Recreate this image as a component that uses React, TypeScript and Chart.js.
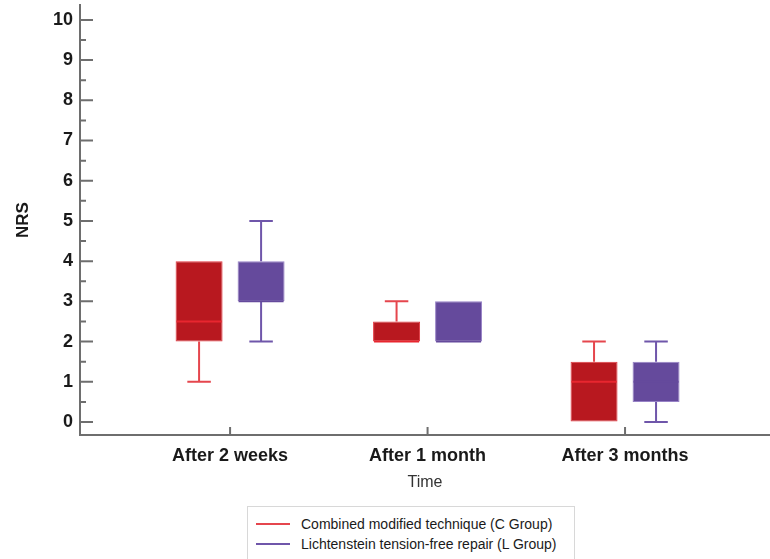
import React, { useEffect, useRef } from "react";
import { Chart, registerables } from "chart.js";

Chart.register(...registerables);

const categories = ["After 2 weeks", "After 1 month", "After 3 months"];
const yTickValues = [0, 1, 2, 3, 4, 5, 6, 7, 8, 9, 10];

// Combined modified technique (C Group)
const cMin = [1, 2, 0];
const cQ1 = [2, 2, 0];
const cMedian = [2.5, 2, 1];
const cQ3 = [4, 2.5, 1.5];
const cMax = [4, 3, 2];

// Lichtenstein tension-free repair (L Group)
const lMin = [2, 2, 0];
const lQ1 = [3, 2, 0.5];
const lMedian = [3, 2, 1];
const lQ3 = [4, 3, 1.5];
const lMax = [5, 3, 2];

const seriesNames = [
  "Combined modified technique (C Group)",
  "Lichtenstein tension-free repair (L Group)",
];

const FONT = "'Liberation Sans', Arial, sans-serif";
const AXIS = "#6e6e6e";

const styles = [
  { fill: "#b8181f", border: "#e23a42", whisker: "#e5464d", median: "#e8262f" },
  { fill: "#654a9c", border: "#9782c6", whisker: "#6f56aa", median: "#654a9c" },
];

const stats = [
  { min: cMin, q1: cQ1, med: cMedian, q3: cQ3, max: cMax },
  { min: lMin, q1: lQ1, med: lMedian, q3: lQ3, max: lMax },
];

const boxPlugin = {
  id: "boxWhiskers",
  afterDatasetsDraw(chart: any) {
    const ctx = chart.ctx;
    const y = chart.scales.y;
    stats.forEach((st, di) => {
      const meta = chart.getDatasetMeta(di);
      const sty = styles[di];
      meta.data.forEach((bar: any, i: number) => {
        const { x, width } = bar.getProps(["x", "width"], true);
        const cap = width / 4;
        ctx.save();
        ctx.strokeStyle = sty.whisker;
        ctx.lineWidth = 2;
        if (st.min[i] < st.q1[i]) {
          const a = y.getPixelForValue(st.q1[i]);
          const b = y.getPixelForValue(st.min[i]);
          ctx.beginPath();
          ctx.moveTo(x, a);
          ctx.lineTo(x, b);
          ctx.moveTo(x - cap, b);
          ctx.lineTo(x + cap, b);
          ctx.stroke();
        }
        if (st.max[i] > st.q3[i]) {
          const a = y.getPixelForValue(st.q3[i]);
          const b = y.getPixelForValue(st.max[i]);
          ctx.beginPath();
          ctx.moveTo(x, a);
          ctx.lineTo(x, b);
          ctx.moveTo(x - cap, b);
          ctx.lineTo(x + cap, b);
          ctx.stroke();
        }
        const m = y.getPixelForValue(st.med[i]);
        ctx.strokeStyle = sty.median;
        ctx.beginPath();
        ctx.moveTo(x - width / 2 + 1, m);
        ctx.lineTo(x + width / 2 - 1, m);
        ctx.stroke();
        ctx.restore();
      });
    });
  },
};

const innerTicks = {
  id: "innerTicks",
  afterDraw(chart: any) {
    const ctx = chart.ctx;
    const { left, bottom } = chart.chartArea;
    const x = chart.scales.x;
    const y = chart.scales.y;
    ctx.save();
    ctx.strokeStyle = AXIS;
    ctx.lineWidth = 2;
    ctx.beginPath();
    yTickValues.forEach((v, idx) => {
      const p = y.getPixelForValue(v);
      ctx.moveTo(left, p);
      ctx.lineTo(left + 13, p);
      if (idx < yTickValues.length - 1) {
        const pm = y.getPixelForValue((v + yTickValues[idx + 1]) / 2);
        ctx.moveTo(left, pm);
        ctx.lineTo(left + 6, pm);
      }
    });
    categories.forEach((_, i) => {
      const p = x.getPixelForValue(i);
      ctx.moveTo(p, bottom);
      ctx.lineTo(p, bottom - 8);
    });
    ctx.stroke();
    ctx.restore();
  },
};

export default function App() {
  const ref = useRef<HTMLCanvasElement | null>(null);

  useEffect(() => {
    if (!ref.current) return;
    const chart = new Chart(ref.current, {
      type: "bar",
      data: {
        datasets: stats.map((st, di) => ({
          label: seriesNames[di],
          data: categories.map((_, i) => ({ x: i, y: [st.q1[i], st.q3[i]] })),
          backgroundColor: styles[di].fill,
          borderColor: styles[di].border,
          borderWidth: 1,
          borderSkipped: false,
          categoryPercentage: 0.628,
          barPercentage: 0.758,
        })),
      },
      options: {
        animation: false,
        responsive: false,
        maintainAspectRatio: false,
        layout: { padding: { top: 5, right: 0, left: 0, bottom: 0 } },
        plugins: { legend: { display: false }, tooltip: { enabled: false } },
        scales: {
          x: {
            type: "linear",
            offset: false,
            min: -0.76,
            max: 2.734,
            afterBuildTicks: (s: any) => {
              s.ticks = categories.map((_, i) => ({ value: i }));
            },
            afterFit: (s: any) => {
              s.height = 65;
              s.paddingLeft = 0;
              s.paddingRight = 0;
            },
            grid: { display: true, offset: false, drawOnChartArea: false, drawTicks: false },
            border: { display: true, color: AXIS, width: 2 },
            ticks: {
              callback: (v: any) => categories[v] ?? "",
              font: { family: FONT, size: 18, weight: "bold" },
              color: "#1a1a1a",
              padding: 10,
              maxRotation: 0,
              autoSkip: false,
            },
            title: {
              display: true,
              text: "Time",
              font: { family: FONT, size: 16 },
              color: "#333333",
              padding: { top: 0, bottom: 8 },
            },
          },
          y: {
            min: -0.323,
            max: 10.37,
            afterBuildTicks: (s: any) => {
              s.ticks = yTickValues.map((v) => ({ value: v }));
            },
            afterFit: (s: any) => {
              s.width = 80;
              s.paddingTop = 0;
              s.paddingBottom = 0;
            },
            grid: { display: true, drawOnChartArea: false, drawTicks: false },
            border: { display: true, color: AXIS, width: 2 },
            ticks: {
              font: { family: FONT, size: 18, weight: "bold" },
              color: "#1a1a1a",
              padding: 7,
            },
            title: {
              display: true,
              text: "NRS",
              font: { family: FONT, size: 17, weight: "bold" },
              color: "#1a1a1a",
              padding: { top: 13, bottom: 0 },
            },
          },
        },
      },
      plugins: [boxPlugin, innerTicks],
    } as any);
    return () => chart.destroy();
  }, []);

  return (
    <div
      style={{
        position: "fixed",
        left: 0,
        top: 0,
        width: 770,
        height: 559,
        background: "#ffffff",
        overflow: "hidden",
      }}
    >
      <canvas ref={ref} width={770} height={500} style={{ position: "absolute", left: 0, top: 0 }} />
      <div
        style={{
          position: "absolute",
          left: 247,
          top: 506,
          width: 328,
          height: 70,
          border: "1px solid #d8d8d8",
          boxSizing: "border-box",
          padding: "7px 0 0 8px",
          fontFamily: FONT,
          fontSize: 14,
          color: "#1a1a1a",
          lineHeight: "20px",
        }}
      >
        {seriesNames.map((name, i) => (
          <div key={name} style={{ display: "flex", alignItems: "center", whiteSpace: "nowrap" }}>
            <span
              style={{
                display: "inline-block",
                width: 34,
                height: 2,
                background: styles[i].whisker,
                marginRight: 11,
              }}
            />
            <span>{name}</span>
          </div>
        ))}
      </div>
    </div>
  );
}
